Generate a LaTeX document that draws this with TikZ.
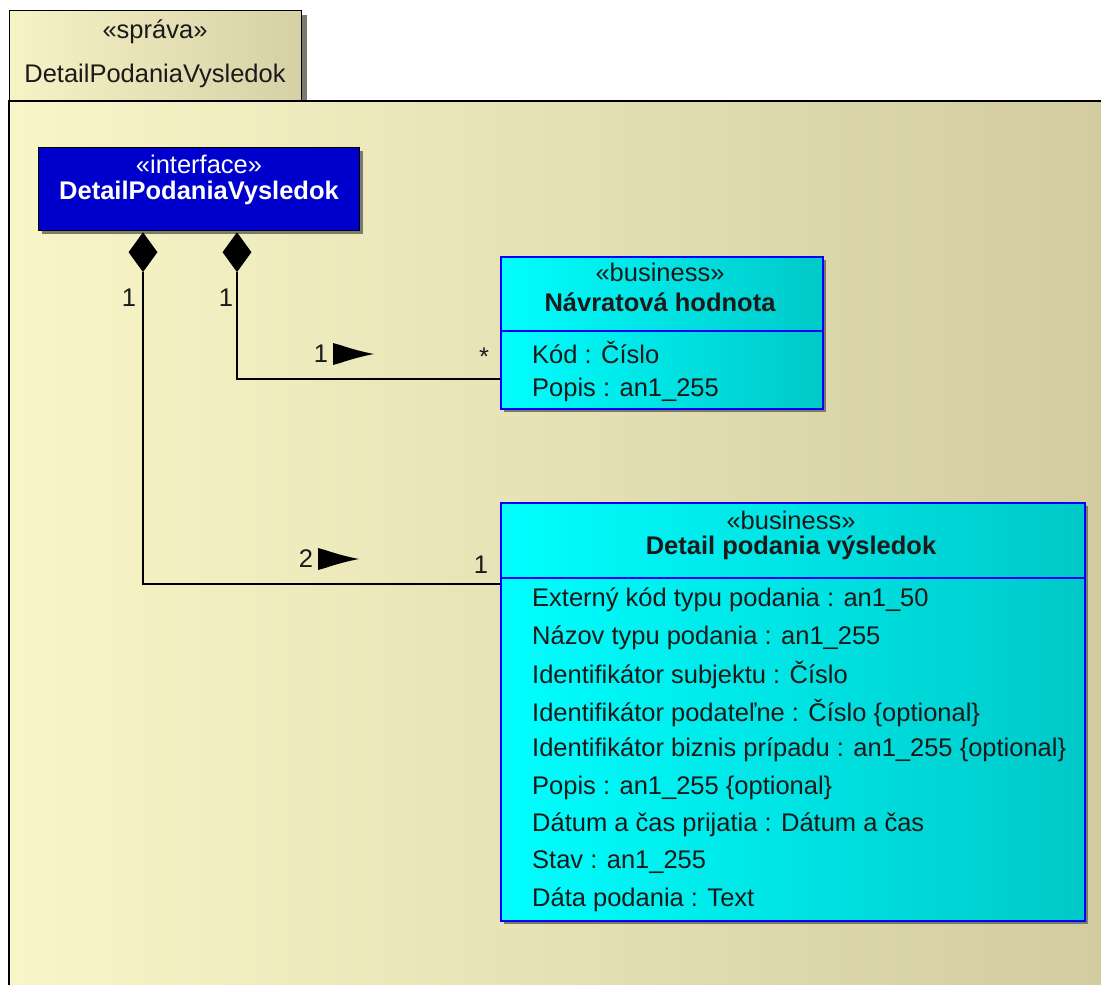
\documentclass[tikz,border=0pt]{standalone}
\usepackage{fontspec}
\setmainfont{Liberation Sans}
\usetikzlibrary{shapes.geometric}
\definecolor{pkgL}{HTML}{F8F6C8}
\definecolor{pkgR}{HTML}{D2CCA0}
\definecolor{tabL}{HTML}{F6F3C6}
\definecolor{tabR}{HTML}{D6D0A6}
\definecolor{cyL}{HTML}{00FFFF}
\definecolor{cyR}{HTML}{00C8C8}
\definecolor{ifblue}{HTML}{0000CC}
\definecolor{txt}{HTML}{1A1A1A}
\definecolor{shad}{HTML}{7A7A70}
\tikzset{
  txtfont/.style={font=\fontsize{25.5}{30}\selectfont, text=txt, inner sep=0pt},
  boldfont/.style={font=\fontsize{25.5}{30}\selectfont\bfseries, text=txt, inner sep=0pt},
  attr/.style={txtfont, anchor=west},
  mult/.style={txtfont},
  classbox/.style={draw=blue, line width=1.6pt, left color=cyL, right color=cyR, shading angle=90, inner sep=0pt, anchor=north west},
  shadowbox/.style={fill=shad, inner sep=0pt, anchor=north west, draw=none},
  compo/.style={diamond, fill=black, inner sep=0pt, minimum width=29pt, minimum height=40pt, anchor=north},
  conn/.style={draw=black, line width=1.3pt},
  flag/.style={fill=black}
}
\begin{document}
\begin{tikzpicture}[x=1pt,y=-1pt]
\useasboundingbox (0,0) rectangle (1101,985);
\fill[white] (0,0) rectangle (1101,985);
% package tab
\fill[shad] (13,15) rectangle (307,101);
\node[draw=black, line width=1.3pt, left color=tabL, right color=tabR, inner sep=0pt, minimum width=292pt, minimum height=91pt, anchor=north west] (tab) at (9,10) {};
\node[txtfont] (tabst) at (155,32) {«správa»};
\node[txtfont] (tabname) at (155,76) {DetailPodaniaVysledok};
% package body
\node[left color=pkgL, right color=pkgR, inner sep=0pt, minimum width=1100pt, minimum height=890pt, anchor=north west] (pkg) at (9,101) {};
\draw[line width=1.3pt] (1102,101) -- (9,101) -- (9,986);
% interface box
\node[shadowbox, minimum width=321pt, minimum height=83pt] (ifsh) at (42,151) {};
\node[draw=black, line width=1.3pt, fill=ifblue, inner sep=0pt, minimum width=321pt, minimum height=83pt, anchor=north west] (iface) at (38,147) {};
\node[txtfont, text=white] (ifst) at (199,164) {«interface»};
\node[boldfont, text=white] (ifname) at (199,193) {DetailPodaniaVysledok};
% Navratova hodnota box
\node[shadowbox, minimum width=322pt, minimum height=152pt] (navsh) at (504,260) {};
\node[classbox, minimum width=322pt, minimum height=152pt] (nav) at (500,256) {};
\draw[blue, line width=1.6pt] (500,331) -- (823,331);
\node[txtfont] (navst) at (660,272) {«business»};
\node[boldfont] (navname) at (660,302) {Návratová hodnota};
\node[attr] (nav1) at (532,352) {Kód : Číslo};
\node[attr] (nav2) at (532,390) {Popis : an1\_255};
% Detail podania vysledok box
\node[shadowbox, minimum width=584pt, minimum height=418pt] (detsh) at (504,506) {};
\node[classbox, minimum width=584pt, minimum height=418pt] (det) at (500,502) {};
\draw[blue, line width=1.6pt] (500,578) -- (1086,578);
\node[txtfont] (detst) at (791,520) {«business»};
\node[boldfont] (detname) at (791,548) {Detail podania výsledok};
\node[attr] (a1) at (532,600) {Externý kód typu podania : an1\_50};
\node[attr] (a2) at (532,637.5) {Názov typu podania : an1\_255};
\node[attr] (a3) at (532,675) {Identifikátor subjektu : Číslo};
\node[attr] (a4) at (532,712.5) {Identifikátor podateľne : Číslo \{optional\}};
\node[attr] (a5) at (532,750) {Identifikátor biznis prípadu : an1\_255 \{optional\}};
\node[attr] (a6) at (532,787.5) {Popis : an1\_255 \{optional\}};
\node[attr] (a7) at (532,825) {Dátum a čas prijatia : Dátum a čas};
\node[attr] (a8) at (532,862.5) {Stav : an1\_255};
\node[attr] (a9) at (532,900) {Dáta podania : Text};
% composition diamonds
\node[compo] (dm1) at (143,232) {};
\node[compo] (dm2) at (237,232) {};
\coordinate (e1) at (nav.west |- 0,379);
\coordinate (e2) at (det.west |- 0,584);
\draw[conn] (dm2.south) |- (e1);
\draw[conn] (dm1.south) |- (e2);
% multiplicities
\node[mult] (m1) at (129,298) {1};
\node[mult] (m2) at (226,298) {1};
\node[mult] (m3) at (321,354) {1};
\node[mult] (m4) at (484,357) {*};
\node[mult] (m5) at (306,559) {2};
\node[mult] (m6) at (481,565) {1};
% direction flags
\fill[flag] (333,343) -- (340,345) .. controls (352,349) and (363,352) .. (374,354) .. controls (363,356) and (352,359) .. (340,363) -- (333,365) -- cycle;
\fill[flag] (318,548) -- (325,550) .. controls (337,554) and (348,557) .. (359,559) .. controls (348,561) and (337,564) .. (325,568) -- (318,570) -- cycle;
\end{tikzpicture}
\end{document}
